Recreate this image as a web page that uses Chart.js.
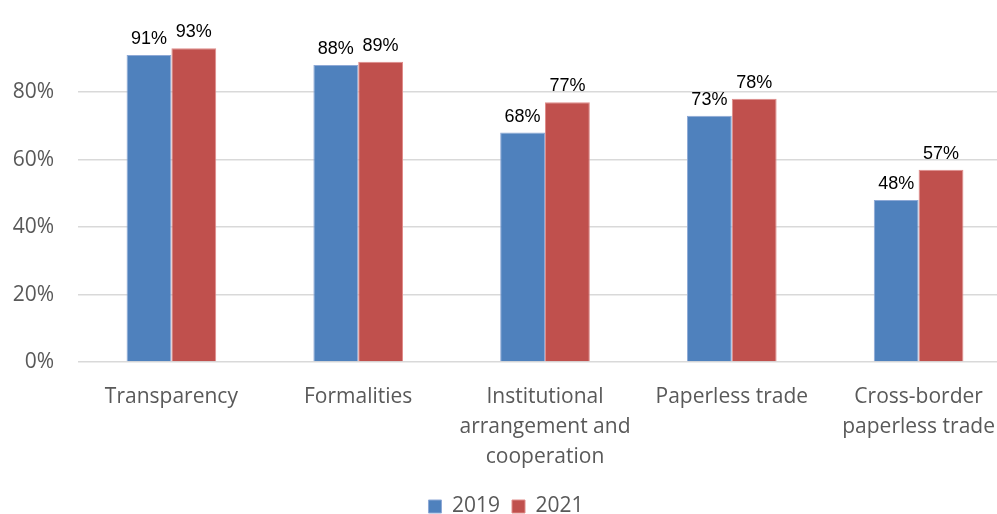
<!DOCTYPE html>
<html>
<head>
<meta charset="utf-8">
<script src="https://cdn.jsdelivr.net/npm/chart.js@4"></script>
<style>
html,body{margin:0;padding:0;background:#fff;overflow:hidden;width:997px;height:514px;position:relative;}
#wrap{position:absolute;left:0;top:-12px;width:1012px;height:539px;}
</style>
</head>
<body>
<div id="wrap"><canvas id="c" width="1012" height="539"></canvas></div>
<script>
const categories = [
  "Transparency",
  "Formalities",
  ["Institutional", "arrangement and", "cooperation"],
  "Paperless trade",
  ["Cross-border", "paperless trade"]
];
const values2019 = [91, 88, 68, 73, 48];
const values2021 = [93, 89, 77, 78, 57];
const seriesNames = ["2019", "2021"];
const yTicks = [0, 20, 40, 60, 80];

const labelFont = "'Open Sans', 'Noto Sans', sans-serif";

const dataLabels = {
  id: 'dataLabels',
  afterDatasetsDraw(chart) {
    const ctx = chart.ctx;
    ctx.save();
    ctx.font = "18px 'Liberation Sans', Arial, sans-serif";
    ctx.fillStyle = "#000";
    ctx.textAlign = "center";
    ctx.textBaseline = "bottom";
    chart.data.datasets.forEach((ds, i) => {
      chart.getDatasetMeta(i).data.forEach((bar, j) => {
        ctx.fillText(ds.data[j] + "%", bar.x, bar.y - 7);
      });
    });
    ctx.restore();
  }
};

new Chart(document.getElementById('c'), {
  type: 'bar',
  data: {
    labels: categories,
    datasets: [
      { label: seriesNames[0], data: values2019, backgroundColor: '#4F81BD', borderColor: '#8EA9D6', borderWidth: 1 },
      { label: seriesNames[1], data: values2021, backgroundColor: '#C0504D', borderColor: '#E08C8A', borderWidth: 1 }
    ]
  },
  options: {
    responsive: false,
    animation: false,
    devicePixelRatio: 1,
    layout: { padding: 0 },
    datasets: { bar: { categoryPercentage: 0.48, barPercentage: 1.0 } },
    plugins: {
      legend: {
        position: 'bottom',
        align: 'center',
        labels: {
          boxWidth: 13, boxHeight: 13, padding: 12,
          color: '#595959',
          font: { family: labelFont, size: 21 }
        }
      },
      tooltip: { enabled: false }
    },
    scales: {
      x: {
        afterFit(scale) { scale.height = 122; },
        grid: { display: false },
        border: { display: false },
        ticks: {
          color: '#595959',
          padding: 12,
          maxRotation: 0,
          autoSkip: false,
          font: { family: labelFont, size: 21, lineHeight: 1.43 }
        }
      },
      y: {
        min: 0, max: 100,
        afterFit(scale) { scale.width = 78; },
        border: { display: false },
        grid: {
          color: (c) => (c.tick && yTicks.includes(c.tick.value)) ? '#D9D9D9' : 'rgba(0,0,0,0)',
          lineWidth: 1.5,
          drawTicks: false
        },
        ticks: {
          stepSize: 20,
          color: '#595959',
          padding: 24,
          font: { family: labelFont, size: 21 },
          callback: (v) => yTicks.includes(v) ? v + '%' : ''
        }
      }
    }
  },
  plugins: [dataLabels]
});
</script>
</body>
</html>
